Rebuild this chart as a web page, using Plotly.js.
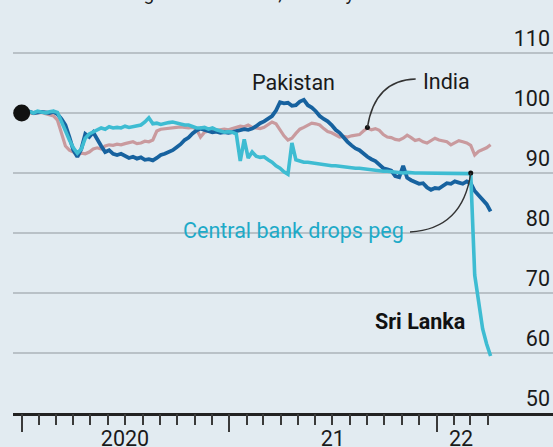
<!DOCTYPE html>
<html>
<head>
<meta charset="utf-8">
<script src="https://cdn.plot.ly/plotly-3.0.1.min.js"></script>
<style>
html,body{margin:0;padding:0;background:#e2ebf1;}
#chart{width:553px;height:447px;}
</style>
</head>
<body>
<div id="chart"></div>
<script>
// Weekly observations, index 100 = January 1st 2020
var startDate = '2020-01-01';
var weekMs = 7 * 24 * 3600 * 1000;

var sriLanka = [
  100, 100, 100.2, 100, 100.3, 100.1, 100, 100.2, 100.3, 100.1,
  98.5, 97, 95.5, 94.2, 93.3, 94, 95.8, 96.5, 96.8, 97.2,
  97.5, 97.3, 97.7, 97.5, 97.6, 97.5, 97.8, 97.6, 97.7, 97.8,
  98, 98.5, 99.2, 98.2, 98.3, 98.1, 98.3, 98.4, 98.5, 98.3,
  98.1, 98, 98, 97.8, 97.5, 97.5, 97.6, 97.3, 97.5, 97.2,
  97, 96.8, 96.9, 96.8, 96.5, 92, 95.6, 92.5, 93.5, 92.8,
  92.6, 92.7, 92.2, 91.8, 91.2, 90.8, 90.2, 89.8, 95, 92.2,
  92, 91.8, 91.8, 91.7, 91.6, 91.4, 91.4, 91.3, 91.2, 91.2,
  91.1, 91, 91, 90.9, 90.8, 90.8, 90.7, 90.6, 90.6, 90.5,
  90.4, 90.3, 90.3, 90.2, 90.2, 90.1, 90, 90.1, 90, 90,
  90, 90, 90, 90, 90, 90, 90, 90, 90, 90,
  90, 90, 90, 89.9, 73, 68, 64, 61.5, 59.5
];

var pakistan = [
  100, 100.1, 100.2, 100, 100.1, 100.2, 100.1, 100, 100.2, 99.8,
  99, 98, 96, 93.8, 92.7, 94, 96.5, 96, 96.8, 95.5,
  94.5, 93.5, 93.8, 93.2, 93, 93.2, 92.8, 92.5, 92.7, 92.4,
  92.6, 92.2, 92.3, 92.1, 92.5, 93, 93.2, 93.5, 93.8, 94.3,
  94.8, 95.5, 95.9, 96.6, 97.1, 97.4, 97.2, 96.9, 96.8, 96.9,
  96.7, 96.8, 96.7, 96.8, 97, 97.1, 97.3, 97.2, 97.4, 97.8,
  98.3, 98.6, 99.1, 99.5, 100.4, 101.8, 101.6, 101.7, 101.2, 101.3,
  101.9, 102.2, 101.3, 100.9, 100.3, 99.5, 99, 98.6, 98, 97.2,
  96.7, 95.9, 95.2, 94.6, 94.1, 93.8, 93.2, 92.7, 92.3, 92,
  91.4, 90.8, 90.6, 90.4, 89.5, 89.3, 91.2, 89.2, 88.8, 88.5,
  88.2, 88.3, 87.6, 87.2, 87.5, 87.4, 87.8, 88.3, 88.2, 88.6,
  88.4, 88.2, 88.6, 88.3, 87, 86.2, 85.6, 84.8, 83.6
];

var india = [
  100, 100.1, 100, 99.9, 100, 100.1, 99.9, 99.7, 99.5, 98.8,
  96.5, 94.5, 93.8, 93.5, 93, 93.3, 93.2, 93.5, 94, 94.2,
  94, 94.5, 94.7, 94.6, 94.8, 94.7, 94.9, 95.1, 95.2, 94.9,
  95, 95.3, 95.2, 95.5, 97, 97.3, 97.4, 97.5, 97.6, 97.7,
  97.7, 97.6, 97.5, 97.6, 97.3, 96, 96.8, 97, 97.2, 97.1,
  97.2, 97.3, 97.2, 97.4, 97.6, 97.8, 97.7, 98, 97.6, 97.5,
  97.4, 97.6, 98.1, 98.5, 98.2, 97.2, 96.2, 95.5, 95.8, 96.6,
  97.3, 97.6, 98, 98.3, 98.2, 98, 97.4, 96.9, 96.7, 96.3,
  96, 96.1, 96, 96.2, 96.3, 96.4, 97, 97.5, 97.2, 97.4,
  97.1, 96.4, 96, 95.9, 95.6, 95.5, 95.8, 96.3, 95.9, 95.4,
  95.6, 95.2, 95, 95.4, 95.8, 95.5, 95.3, 95.2, 94.7, 95,
  95.4, 95.2, 95, 94.6, 93, 93.6, 93.9, 94.2, 94.7
];

var yTicks = [50, 60, 70, 80, 90, 100, 110];
var yearLabelDates = ['2020-07-01', '2021-07-02', '2022-02-13'];
var yearLabels = ['2020', '21', '22'];
var yearTickDates = ['2020-01-01', '2021-01-01', '2022-01-01'];
var monthTickDates = [
  '2020-01-01','2020-02-01','2020-03-01','2020-04-01','2020-05-01','2020-06-01',
  '2020-07-01','2020-08-01','2020-09-01','2020-10-01','2020-11-01','2020-12-01',
  '2021-01-01','2021-02-01','2021-03-01','2021-04-01','2021-05-01','2021-06-01',
  '2021-07-01','2021-08-01','2021-09-01','2021-10-01','2021-11-01','2021-12-01',
  '2022-01-01','2022-02-01','2022-03-01','2022-04-01'
];
var xRange = ['2019-12-16 16:00', '2022-07-24 22:00'];

var FONT = 'Roboto, "Liberation Sans", sans-serif';
var FS = 21.5;
var C_SL = '#3ebcd2', C_PK = '#17629f', C_IN = '#c99a9e';

var traces = [
  {type:'scatter', mode:'lines', name:'India', y:india, x0:startDate, dx:weekMs,
   line:{color:C_IN, width:3.2}, hoverinfo:'skip'},
  {type:'scatter', mode:'lines', name:'Pakistan', y:pakistan, x0:startDate, dx:weekMs,
   line:{color:C_PK, width:3.8}, hoverinfo:'skip'},
  {type:'scatter', mode:'lines', name:'Sri Lanka', y:sriLanka, x0:startDate, dx:weekMs,
   line:{color:C_SL, width:3.6}, hoverinfo:'skip'},
  {type:'scatter', mode:'markers', x:[startDate], y:[100],
   marker:{color:'#111', size:17}, hoverinfo:'skip'},
  {type:'scatter', mode:'markers', x:['2021-09-01','2022-03-02'], y:[97.6, 90],
   marker:{color:'#111', size:5}, hoverinfo:'skip'},
  {type:'scatter', mode:'lines', x:[], y:[], xaxis:'x2', hoverinfo:'skip'}
];

var layout = {
  width:553, height:447,
  margin:{l:13, r:0, t:23, b:34},
  paper_bgcolor:'#e2ebf1', plot_bgcolor:'#e2ebf1',
  showlegend:false,
  font:{family:FONT, size:FS, color:'#1a1a1a'},
  xaxis:{
    type:'date', range:xRange, showgrid:false, zeroline:false,
    showline:true, linecolor:'#222', linewidth:2.5,
    tickmode:'array', tickvals:yearLabelDates, ticktext:yearLabels,
    ticks:'', ticklabelstandoff:5,
    tickfont:{family:FONT, size:FS, color:'#1a1a1a'}, fixedrange:true
  },
  xaxis2:{
    type:'date', range:xRange, overlaying:'x', anchor:'y', side:'bottom',
    showgrid:false, zeroline:false, showline:false, showticklabels:false,
    tickmode:'array', tickvals:yearTickDates, ticks:'outside',
    ticklen:18, tickwidth:2, tickcolor:'#3a3a3a',
    minor:{tickmode:'array', tickvals:monthTickDates, ticks:'outside',
           ticklen:11, tickwidth:2, tickcolor:'#3a3a3a', showgrid:false},
    fixedrange:true
  },
  yaxis:{
    range:[50,115], side:'right', tickmode:'array', tickvals:yTicks,
    ticks:'', ticklabelposition:'inside', ticklabelshift:-15, ticklabeloverflow:'allow',
    showgrid:true, gridcolor:'#b9c1c7', gridwidth:1.5, zeroline:false, showline:false,
    tickfont:{family:FONT, size:FS, color:'#1a1a1a'}, fixedrange:true
  },
  shapes:[
    {type:'line', xref:'x', yref:'y', x0:startDate, x1:xRange[1], y0:100, y1:100,
     line:{color:'#1a1a1a', width:2.2}, layer:'below'},
    {type:'path', xref:'x', yref:'y', layer:'above',
     path:'M2021-11-25,105.67 Q2021-09-14,105.5 2021-09-01,97.6',
     line:{color:'#333', width:1.5}},
    {type:'path', xref:'x', yref:'y', layer:'above',
     path:'M2021-11-15,80.17 Q2022-02-16,80.67 2022-03-02,90',
     line:{color:'#333', width:1.5}}
  ],
  annotations:[
    {text:'Pakistan', x:'2021-04-24', y:105.08, xref:'x', yref:'y', showarrow:false,
     font:{family:FONT, size:FS, color:'#1a1a1a'}},
    {text:'India', x:'2022-01-19', y:105.33, xref:'x', yref:'y', showarrow:false,
     font:{family:FONT, size:FS, color:'#1a1a1a'}},
    {text:'Central bank drops peg', x:'2021-04-23', y:80.42, xref:'x', yref:'y', showarrow:false,
     font:{family:FONT, size:FS, color:'#1eaac8'}},
    {text:'<b>Sri Lanka</b>', x:'2021-12-03', y:65.25, xref:'x', yref:'y', showarrow:false,
     font:{family:FONT, size:FS, color:'#111'}},
    {text:'Currencies against the dollar, January 1st 2020=100', xref:'paper', yref:'paper',
     x:0.0431, y:1.05897, xanchor:'left', yanchor:'bottom', yshift:-6.6, showarrow:false,
     font:{family:FONT, size:19, color:'#1a1a1a'}}
  ]
};

Plotly.newPlot('chart', traces, layout, {displayModeBar:false, staticPlot:true});
</script>
</body>
</html>
